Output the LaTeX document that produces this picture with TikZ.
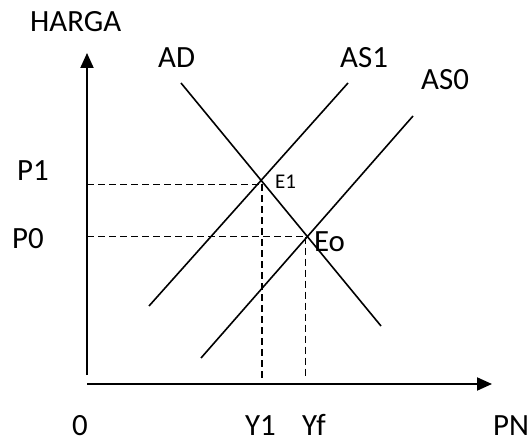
\documentclass[tikz,border=0pt]{standalone}
\usepackage{fontspec}
\setmainfont{Carlito}
\usetikzlibrary{arrows.meta,intersections}
\begin{document}
\begin{tikzpicture}[x=1bp,y=-1bp,
  axis/.style={line width=2bp,-{Triangle[length=15bp,width=13bp]}},
  curve/.style={line width=1.6bp},
  guide/.style={line width=1.6bp,dash pattern=on 7bp off 4bp},
  lbl/.style={inner sep=0pt,anchor=base west,font=\fontsize{31}{35}\selectfont},
  small/.style={inner sep=0pt,anchor=base west,font=\fontsize{21}{25}\selectfont}]
\useasboundingbox (0,0) rectangle (528,439);
% axes
\coordinate (yb) at (87,375);
\coordinate (yt) at (87,53);
\coordinate (xl) at (87,384);
\coordinate (xr) at (492,384);
\coordinate (base) at (0,378);
\draw[axis] (yb) -- (yt);
\draw[axis] (xl) -- (xr);
% curves
\coordinate (ad1) at (181,83);
\coordinate (ad2) at (381,326);
\coordinate (as1a) at (149,306);
\coordinate (as1b) at (348,83);
\coordinate (as0a) at (201,358);
\coordinate (as0b) at (413,116);
\draw[curve,name path=ad] (ad1) -- (ad2);
\draw[curve,name path=as1] (as1a) -- (as1b);
\draw[curve,name path=as0] (as0a) -- (as0b);
\path[name intersections={of=ad and as1,by=E1}];
\path[name intersections={of=ad and as0,by=E0}];
\coordinate (g1) at ([xshift=1bp,yshift=-4bp]E1);
\coordinate (g0) at ([xshift=-2bp]E0);
% guides
\draw[guide] (g1 -| yb) -- (g1);
\draw[guide] (g0 -| yb) -- (g0);
\draw[guide] (g1) -- (g1 |- base);
\draw[guide] (g0) -- (g0 |- base);
% labels
\node[lbl] (harga) at (30,32) {HARGA};
\node[lbl] (adl) at (158,68) {AD};
\node[lbl] (as1l) at (340,68) {AS1};
\node[lbl] (as0l) at (421,90) {AS0};
\node[lbl] (p1) at (17,181) {P1};
\node[lbl] (p0) at (12,249) {P0};
\node[small] (e1l) at (275,189) {E1};
\node[lbl] (e0l) at (314,252) {Eo};
\node[lbl] (zero) at (72,435) {0};
\node[lbl] (y1l) at (245,435) {Y1};
\node[lbl] (yfl) at (302,435) {Yf};
\node[lbl] (pnl) at (493,435) {PN};
\end{tikzpicture}
\end{document}
